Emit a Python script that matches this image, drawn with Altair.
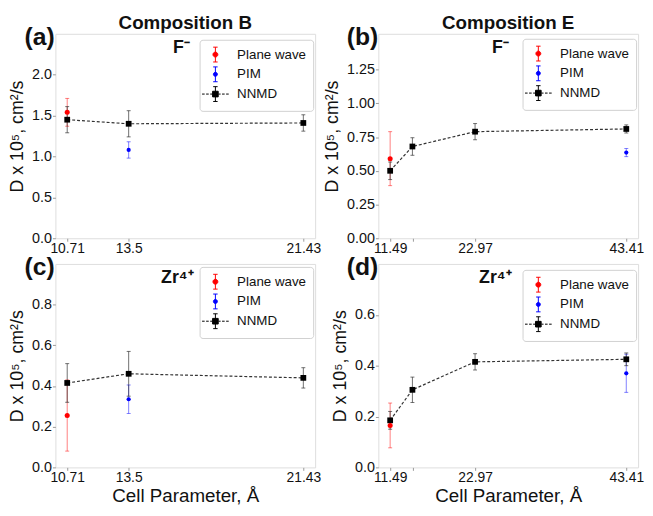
import altair as alt
import pandas as pd

FONT = "Liberation Sans"

# ---------------- data ----------------
series_names = ["Plane wave", "PIM", "NNMD"]
series_colors = ["#ff0000", "#0000ff", "#000000"]

# Panel (a): Composition B, F-
a_pw_x, a_pw_y, a_pw_e = [10.71], [1.54], [0.17]
a_pim_x, a_pim_y, a_pim_e = [13.5], [1.08], [0.10]
a_nn_x, a_nn_y, a_nn_e = [10.71, 13.5, 21.43], [1.45, 1.40, 1.41], [0.16, 0.16, 0.10]

# Panel (b): Composition E, F-
b_pw_x, b_pw_y, b_pw_e = [11.49], [0.59], [0.20]
b_pim_x, b_pim_y, b_pim_e = [43.41], [0.635], [0.03]
b_nn_x, b_nn_y, b_nn_e = [11.49, 14.5, 22.97, 43.41], [0.50, 0.68, 0.79, 0.81], [0.065, 0.065, 0.06, 0.03]

# Panel (c): Composition B, Zr4+
c_pw_x, c_pw_y, c_pw_e = [10.71], [0.255], [0.175]
c_pim_x, c_pim_y, c_pim_e = [13.5], [0.335], [0.07]
c_nn_x, c_nn_y, c_nn_e = [10.71, 13.5, 21.43], [0.415, 0.46, 0.44], [0.095, 0.11, 0.05]

# Panel (d): Composition E, Zr4+
d_pw_x, d_pw_y, d_pw_e = [11.49], [0.165], [0.088]
d_pim_x, d_pim_y, d_pim_e = [43.41], [0.37], [0.075]
d_nn_x, d_nn_y, d_nn_e = [11.49, 14.5, 22.97, 43.41], [0.185, 0.305, 0.415, 0.425], [0.035, 0.05, 0.032, 0.025]

ticks_B = [10.71, 13.5, 21.43]
ticks_E = [11.49, 14.5, 22.97, 43.41]

# legend glyphs (custom symbol paths)
PATH_PW = ("M0,-1L0,1M-0.3,-1L0.3,-1M-0.3,1L0.3,1"
           "M0.33,0A0.33,0.33 0 1,1 -0.33,0A0.33,0.33 0 1,1 0.33,0Z")
PATH_PIM = ("M0,-1L0,1M-0.3,-1L0.3,-1M-0.3,1L0.3,1"
            "M0.27,0A0.27,0.27 0 1,1 -0.27,0A0.27,0.27 0 1,1 0.27,0Z")
PATH_NN = ("M0,-1L0,1M-0.3,-1L0.3,-1M-0.3,1L0.3,1"
           "M-1.8,0L-1.45,0M-1.25,0L-0.9,0M-0.7,0L-0.42,0M0.42,0L0.7,0M0.9,0L1.25,0M1.45,0L1.8,0"
           "M-0.38,-0.38L0.38,-0.38L0.38,0.38L-0.38,0.38Z")

PW_W = 263


def frame(xs, ys, es, name):
    return pd.DataFrame({
        "x": xs, "y": ys,
        "lo": [v - e for v, e in zip(ys, es)],
        "hi": [v + e for v, e in zip(ys, es)],
        "series": [name] * len(xs),
    })


def panel(pw, pim, nn, xticks, xdomain, ydomain, yticks, yfmt, label, ion,
          ion_dx, height, leg_y, title=None, xtitle=None):
    df_pw = frame(*pw, "Plane wave")
    df_pim = frame(*pim, "PIM")
    df_nn = frame(*nn, "NNMD")

    xscale = alt.Scale(domain=xdomain, nice=False, zero=False)
    yscale = alt.Scale(domain=ydomain, nice=False, zero=False)
    xaxis = alt.Axis(values=xticks, grid=False, domain=False,
                     labelExpr="datum.value == 14.5 ? '' : '' + datum.value",
                     labelFont=FONT, labelFontSize=14, labelColor="#111",
                     tickColor="#999", tickSize=3, labelPadding=0,
                     title=xtitle if xtitle else "", titleFont=FONT, titleFontSize=19,
                     titleFontWeight="normal", titleColor="#111", titlePadding=3)
    yaxis = alt.Axis(values=yticks, format=yfmt, grid=False, domain=False,
                     labelFont=FONT, labelFontSize=14.5, labelColor="#111",
                     tickColor="#999", tickSize=3, labelPadding=1,
                     title="D x 10⁵, cm²/s", titleFont=FONT, titleFontSize=18,
                     titleFontWeight="normal", titleColor="#111", titlePadding=5)

    def X():
        return alt.X("x:Q", scale=xscale, axis=xaxis)

    def Y(field):
        return alt.Y(f"{field}:Q", scale=yscale, axis=yaxis)

    def errs(df, color, opacity):
        base = alt.Chart(df)
        bar = base.mark_rule(color=color, strokeWidth=1, opacity=opacity).encode(
            x=X(), y=Y("lo"), y2="hi:Q")
        cap_lo = base.mark_tick(color=color, orient="horizontal", size=4,
                                thickness=1, opacity=opacity).encode(
            x=X(), y=Y("lo"))
        cap_hi = base.mark_tick(color=color, orient="horizontal", size=4,
                                thickness=1, opacity=opacity).encode(
            x=X(), y=Y("hi"))
        return bar + cap_lo + cap_hi

    line = alt.Chart(df_nn).mark_line(color="#333", strokeWidth=1.2,
                                      strokeDash=[3, 2]).encode(x=X(), y=Y("y"))

    nn_pts = alt.Chart(df_nn).mark_point(shape="square", filled=True, size=34,
                                         color="#000", opacity=1).encode(x=X(), y=Y("y"))
    pw_pts = alt.Chart(df_pw).mark_point(shape="circle", filled=True, size=26,
                                         color="#ff0000", opacity=1).encode(x=X(), y=Y("y"))
    pim_pts = alt.Chart(df_pim).mark_point(shape="circle", filled=True, size=18,
                                           color="#0000ff", opacity=1).encode(x=X(), y=Y("y"))

    leg_df = pd.DataFrame({"series": series_names})
    legend = alt.Legend(title=None, orient="none", legendX=146, legendY=leg_y,
                        labelFont=FONT, labelFontSize=13.5, labelColor="#111",
                        symbolSize=225, symbolStrokeWidth=1, symbolOffset=1,
                        symbolOpacity=1,
                        labelOffset=14, rowPadding=0, padding=7,
                        strokeColor="#d0d0d0", fillColor="white", cornerRadius=3)
    legend_layer = alt.Chart(leg_df).mark_point(filled=True, opacity=1).encode(
        shape=alt.Shape("series:N", scale=alt.Scale(domain=series_names,
                        range=[PATH_PW, PATH_PIM, PATH_NN]), legend=legend),
        color=alt.Color("series:N", scale=alt.Scale(domain=series_names,
                        range=series_colors), legend=legend),
        stroke=alt.Stroke("series:N", scale=alt.Scale(domain=series_names,
                          range=series_colors), legend=legend),
    ).transform_filter("false")

    lab = alt.Chart(pd.DataFrame({"t": [label]})).mark_text(
        font=FONT, fontSize=25, fontWeight="bold", color="#111",
        align="center", baseline="middle").encode(
        x=alt.value(-16), y=alt.value(3), text="t:N")
    ion_txt = alt.Chart(pd.DataFrame({"t": [ion]})).mark_text(
        font=FONT, fontSize=18, fontWeight="bold", color="#111",
        align="left", baseline="middle").encode(
        x=alt.value(ion_dx), y=alt.value(14), text="t:N")

    layers = [errs(df_pw, "#ff0000", 0.5),
              errs(df_pim, "#0000ff", 0.5),
              errs(df_nn, "#333333", 0.7),
              line, nn_pts, pw_pts, pim_pts, legend_layer, lab, ion_txt]
    ch = alt.layer(*layers)
    props = dict(width=PW_W, height=height)
    if title:
        props["title"] = alt.TitleParams(title, font=FONT, fontSize=19,
                                         fontWeight="bold", color="#111", offset=-8,
                                         frame="group")
    return ch.properties(**props)


dom_B = [10.174, 21.966]
dom_E = [9.894, 45.006]

pa = panel((a_pw_x, a_pw_y, a_pw_e), (a_pim_x, a_pim_y, a_pim_e), (a_nn_x, a_nn_y, a_nn_e),
           ticks_B, dom_B, [0, 2.5], [0, 0.5, 1.0, 1.5, 2.0], ".1f", "(a)", "F⁻", 119,
           207, 6, title="Composition B")
pb = panel((b_pw_x, b_pw_y, b_pw_e), (b_pim_x, b_pim_y, b_pim_e), (b_nn_x, b_nn_y, b_nn_e),
           ticks_E, dom_E, [0, 1.515], [0, 0.25, 0.5, 0.75, 1.0, 1.25], ".2f", "(b)", "F⁻", 115,
           207, 5, title="Composition E")
pc = panel((c_pw_x, c_pw_y, c_pw_e), (c_pim_x, c_pim_y, c_pim_e), (c_nn_x, c_nn_y, c_nn_e),
           ticks_B, dom_B, [0, 1.0], [0, 0.2, 0.4, 0.6, 0.8], ".1f", "(c)", "Zr⁴⁺", 107,
           206, 3, xtitle="Cell Parameter, Å")
pd_ = panel((d_pw_x, d_pw_y, d_pw_e), (d_pim_x, d_pim_y, d_pim_e), (d_nn_x, d_nn_y, d_nn_e),
            ticks_E, dom_E, [0, 0.8], [0, 0.2, 0.4, 0.6], ".1f", "(d)", "Zr⁴⁺", 102,
            206, 6, xtitle="Cell Parameter, Å")

chart = alt.concat(pa, pb, pc, pd_, columns=2,
                   spacing=alt.RowColnumber(row=26, column=64),
                   bounds="flush").resolve_scale(
    x="independent", y="independent", color="independent",
    shape="independent", stroke="independent").resolve_legend(
    color="independent", shape="independent", stroke="independent").properties(
    padding={"top": 2, "left": 0, "right": 0, "bottom": 0}
).configure_view(stroke="#b8b8b8", strokeWidth=1.2).configure(background="white")

chart.save("out.html", embed_options={"renderer": "svg", "actions": False})
